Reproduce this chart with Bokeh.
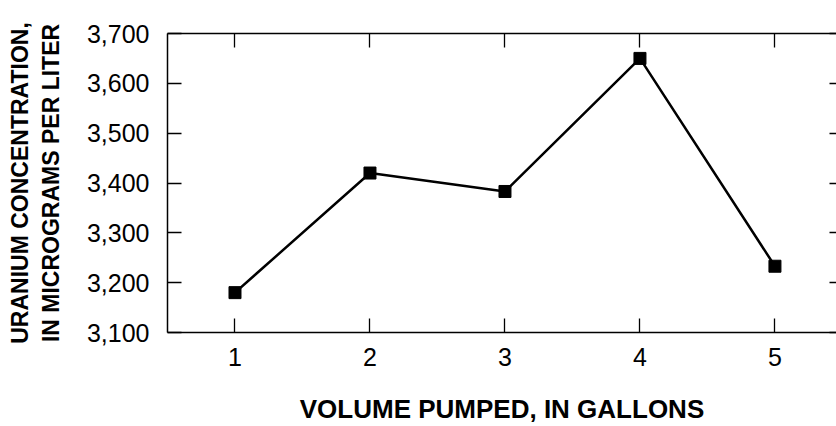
from bokeh.plotting import figure
from bokeh.models import LinearAxis, FixedTicker, NumeralTickFormatter, Range1d, ColumnDataSource
from bokeh.embed import file_html
from bokeh.resources import INLINE

# Data
volume_gallons = [1, 2, 3, 4, 5]
uranium_ugl = [3180, 3420, 3383, 3650, 3233]
x_ticks = [1, 2, 3, 4, 5]
y_ticks = [3100, 3200, 3300, 3400, 3500, 3600, 3700]
x_title = "VOLUME PUMPED, IN GALLONS"
y_title = "URANIUM CONCENTRATION,\nIN MICROGRAMS PER LITER"

FONT = "Liberation Sans"

src = ColumnDataSource(dict(x=volume_gallons, y=uranium_ugl))

p = figure(width=836, height=426, output_backend="svg", toolbar_location=None,
           x_range=Range1d(0.5, 5.456), y_range=Range1d(3100, 3700),
           x_axis_location=None, y_axis_location=None,
           min_border_left=167, min_border_right=0, min_border_top=33, min_border_bottom=0)
p.outline_line_color = None
p.xgrid.visible = False
p.ygrid.visible = False
p.background_fill_color = "white"
p.border_fill_color = "white"

def style(ax, show_labels):
    ax.axis_line_color = "black"
    ax.axis_line_width = 1.5
    ax.major_tick_line_color = "black"
    ax.major_tick_line_width = 1.3
    ax.major_tick_in = 14
    ax.major_tick_out = 0
    ax.minor_tick_line_color = None
    if show_labels:
        ax.major_label_text_font = FONT
        ax.major_label_text_font_size = "25px"
        ax.major_label_text_color = "black"
    else:
        ax.major_label_text_font_size = "0px"
        ax.major_label_text_color = None
        ax.major_label_standoff = 0

xb = LinearAxis(ticker=FixedTicker(ticks=x_ticks))
style(xb, True)
xb.major_label_standoff = 15
xb.axis_label = x_title
xb.axis_label_text_font = FONT
xb.axis_label_text_font_size = "26px"
xb.axis_label_text_font_style = "bold"
xb.axis_label_text_color = "black"
xb.axis_label_standoff = 25
p.add_layout(xb, "below")

yl = LinearAxis(ticker=FixedTicker(ticks=y_ticks), formatter=NumeralTickFormatter(format="0,0"))
style(yl, True)
yl.major_label_standoff = 18
yl.axis_label = y_title
yl.axis_label_text_font = FONT
yl.axis_label_text_font_size = "23px"
yl.axis_label_text_font_style = "bold"
yl.axis_label_text_color = "black"
yl.axis_label_standoff = 20
p.add_layout(yl, "left")

xt = LinearAxis(ticker=FixedTicker(ticks=x_ticks))
style(xt, False)
p.add_layout(xt, "above")

yr = LinearAxis(ticker=FixedTicker(ticks=y_ticks))
style(yr, False)
yr.axis_line_color = None
yr.major_tick_in = 7
p.add_layout(yr, "right")

p.line("x", "y", source=src, line_color="black", line_width=2.5)
p.scatter("x", "y", source=src, marker="square", size=12, fill_color="black", line_color="black")

open("out.html", "w").write(file_html(p, INLINE))
